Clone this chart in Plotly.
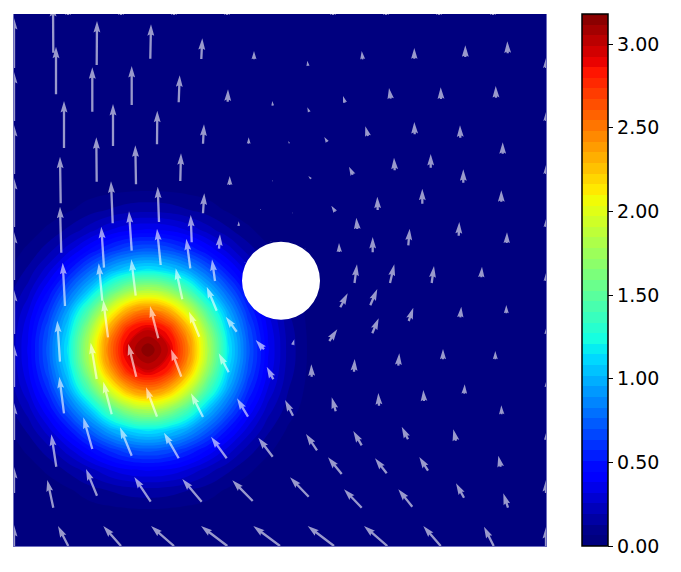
import numpy as np
import plotly.graph_objects as go

# scalar field samples (rows bottom to top)
grid_x = [-6, 14, 34, 54, 74, 94, 114, 134, 154, 174, 194, 214, 234, 254, 274, 294, 314, 540]
grid_y = [-4, 16, 36, 56, 76, 96, 116, 136, 156, 176, 196, 216, 236, 256, 276, 296, 316, 336, 356, 376, 540]
field = [
 [0,.001,.001,.002,.004,.005,.006,.006,.006,.005,.004,.002,.001,.001,0,0,0,0],
 [.001,.002,.004,.007,.011,.016,.020,.020,.020,.016,.011,.007,.004,.002,.001,0,0,0],
 [.003,.006,.013,.021,.033,.045,.054,.058,.054,.045,.033,.021,.013,.006,.003,.001,0,0],
 [.007,.016,.031,.054,.095,.130,.160,.170,.160,.130,.095,.054,.031,.016,.007,.003,.001,0],
 [.016,.035,.075,.140,.220,.310,.370,.390,.370,.310,.220,.140,.075,.035,.016,.006,.002,0],
 [.031,.075,.160,.290,.440,.580,.690,.730,.690,.580,.440,.290,.160,.075,.031,.013,.004,0],
 [.054,.140,.290,.490,.730,.950,1.10,1.17,1.10,.950,.730,.490,.290,.140,.054,.021,.007,0],
 [.095,.220,.440,.730,1.03,1.41,1.70,1.81,1.70,1.41,1.03,.730,.440,.220,.095,.033,.011,0],
 [.130,.310,.580,.950,1.41,1.93,2.33,2.48,2.33,1.93,1.41,.950,.580,.310,.130,.045,.016,0],
 [.160,.370,.690,1.10,1.70,2.33,2.81,2.99,2.81,2.33,1.70,1.10,.690,.370,.160,.054,.020,0],
 [.170,.390,.730,1.17,1.81,2.48,2.99,3.18,2.99,2.48,1.81,1.17,.730,.390,.170,.058,.020,0],
 [.160,.370,.690,1.10,1.70,2.33,2.81,2.99,2.81,2.33,1.70,1.10,.690,.370,.160,.054,.020,0],
 [.130,.310,.580,.950,1.41,1.93,2.33,2.48,2.33,1.93,1.41,.950,.580,.310,.130,.045,.016,0],
 [.095,.220,.440,.730,1.03,1.41,1.70,1.81,1.70,1.41,1.03,.730,.440,.220,.095,.033,.011,0],
 [.054,.140,.290,.490,.730,.950,1.10,1.17,1.10,.950,.730,.490,.290,.140,.054,.021,.007,0],
 [.031,.075,.160,.290,.440,.580,.690,.730,.690,.580,.440,.290,.160,.075,.031,.013,.004,0],
 [.016,.035,.075,.140,.220,.310,.370,.390,.370,.310,.220,.140,.075,.035,.016,.006,.002,0],
 [.007,.016,.031,.054,.095,.130,.160,.170,.160,.130,.095,.054,.031,.016,.007,.003,.001,0],
 [.003,.006,.013,.021,.033,.045,.054,.058,.054,.045,.033,.021,.013,.006,.003,.001,0,0],
 [.001,.002,.004,.007,.011,.016,.020,.020,.020,.016,.011,.007,.004,.002,.001,0,0,0],
 [0,0,0,0,0,0,0,0,0,0,0,0,0,0,0,0,0,0],
]

arrow_x = [0,0,0,0,0,0,0,0,0,0,
 532,532,532,532,532,532,532,532,532,532,
 39.3,42,82.7,136.3,187.3,240,78.3,117.7,164.7,213.7,258.7,50,99,143,189,234.7,82.7,122,166.3,215.7,258.3,
 46.7,98.7,145,189,246.7,47.3,117.7,177.7,224.7,90,146.7,176.3,205,257,231,51,88.3,121.7,168.3,201,94,202.7,
 46,82.7,144.3,122.3,167.3,185.3,222.7,214.7,250,259.3,50,97.7,143,189,234,78.3,117.7,164.7,212.7,258.7,
 42.3,83,136.7,187.7,238.7,39.3,54.3,107,160,213.3,266,
 294,348.7,400.3,451.3,493.7,331,295.3,376.7,427,482,275.3,313.3,354,400.7,446.3,488.7,297,339,380.7,416.7,449.3,
 278.3,321.3,363.7,408.3,487.3,343.3,325.3,358.7,394.3,444.7,492.7,340.5,376,417.7,467.3,291,
 326.3,356.3,394.7,446.3,492.3,315.3,358.3,278.7,340,384.3,429,481.3,297.7,450.3,321.7,365,410,487.7,279,
 303,347.7,394,442,327.7,372.7,414,486.7,294.7,347.7,398.3,450,494,320,373.3,426.7,479.7,
 54,107,160,213,319,372,425,479]
arrow_y = [478,425,372,319,266,212,159,106,53,0,
 478,425,372,319,265,212,159,106,53,0,
 493.3,451.7,481,487.3,487,486.7,434.3,441,443.7,444.3,440.3,398,400,401.7,402.3,402.3,364.3,361.7,365,361,364.7,
 342.7,322.7,324,332.7,336,293.3,295.3,303.7,320,278.3,281,277.7,297.3,304,283,240,245.3,250.3,246.7,265,208.7,235.3,
 184.3,167,207.7,169.3,169.3,209.3,214.3,173.7,196.7,166.7,132.7,131.7,129.3,129,129.3,97,90.3,87.7,87.7,89.3,
 79.3,50.3,44.3,44.3,45,38.3,0,0,0,0,0,
 480,486.7,487.3,489,492.7,443.3,434,447.3,447,448.3,402.7,404,410,411.7,408.3,392.3,367.3,371.3,375.7,378.3,363.3,
 332.7,334.3,336,342.3,344.3,317,294,293.7,300.7,310.3,303,263,263,263,268.7,296.7,
 238.7,240.7,225,228.7,232.7,205,212.7,201,174.3,180.3,186.7,186.7,169.3,152.3,134.7,140.3,145,131.7,130.3,
 95.7,100.7,106.7,105.3,72,72.7,75.3,79.3,49.3,38.3,39.3,48.3,38.3,0,0,0,0,
 531,531,531,531,531,531,531,531]
arrow_u = [0,0,0,0,0,0,0,0,0,0,
 0,0,0,0,0,0,0,0,0,0,
 -.3,0,.3,.7,1,0,0,0,1,.3,-.4,0,0,.3,1,0,-.4,-.7,.7,0,0,
 -.7,-1.7,-1.3,1.3,0,-1.3,-2.7,-1,0,-2.7,-3.7,-4,1,0,0,-2.3,-3.6,-4.4,-6.6,-3,-4.7,-10,
 -2.7,-6,-8.3,-8,-10.3,-10.3,-11,-10,-8.3,-6.6,-4.7,-8.4,-11,-12,-11,-9,-11.7,-14.7,-15.7,-14.4,
 -5,-11,-16.4,-19.4,-20.4,-6,-10.3,-17.7,-23,-26.3,-26.7,
 -.7,-1,0,0,-.4,-2,-2,-1.7,-.3,-.3,-1,-3,-2.7,-.4,-.3,0,-2.7,-4,-.7,0,0,
 0,-4,-.4,0,0,-1,-.3,0,1.4,.6,.3,2.5,4.3,2.3,.7,0,
 7.4,7,4.6,1,0,8,6.4,1.6,.7,1,0,0,-.4,.4,-4,-.7,-.7,-.4,-8,
 -11,-8.4,-6.3,-2.7,-13.7,-11.7,-8.7,-2.4,-18.7,-17.7,-14,-8,-4.7,-26.3,-23.3,-17.4,-9.7,
 0,0,0,0,0,0,0,0]
arrow_v = [50,49,49,49,48,44,42,37,26,21,
 10,9,9,8,8,5.5,5,7,13,19,
 47.7,47.6,44,34.4,20.7,8.3,44.4,39,27,12.4,4.7,47,42,33.6,19.4,6.4,44.4,39,27.7,9,1.3,
 46.6,42,35.3,20,1.3,46,39.4,27.3,4.7,41,36.3,29.6,14.4,1,1,43.3,37.4,36.4,31,21.7,37.3,24,
 41,36.3,32.3,32.7,27.4,25,15,19,9.3,12.6,36.6,32.6,29.4,23.7,18.4,31.7,28.4,25.6,21.6,19,
 32.4,26.7,24.7,22.7,20.7,27.7,20,20,20,20,20,
 5.3,8.3,10.7,11.7,12,6.7,4.7,10.7,11.7,11.7,2.3,5,9.7,12.3,12.4,11.4,2.7,8,12.6,13.7,13.4,
 1,6,13.3,15,11.4,11.3,9,15.3,16.6,13.7,10.7,18.7,18.7,17,10.6,1,
 14,16.3,13.3,10.6,8.3,11.7,15,5.7,12.7,12.4,10.3,8.3,12.4,9.4,14,12.7,11,9,15.7,
 16.3,14.3,12.6,11.4,16.7,15,13.7,11,19.4,18.4,17.4,14.4,14.4,20,20,20,19.3,
 10,10,10,10,10,10,10,10]

hole_center = (267, 265.3)
hole_radius = 39
z_max = 3.18
level_step = 0.0636
tick_values = [0, 0.5, 1.0, 1.5, 2.0, 2.5, 3.0]

def c(r, g, b):
    return f"rgb({r},{g},{b})"

jet = [[0, c(0,0,127)], [.11, c(0,0,255)], [.125, c(0,0,255)], [.34, c(0,219,255)], [.35, c(0,230,247)],
       [.375, c(20,255,226)], [.64, c(238,255,8)], [.65, c(247,246,0)], [.66, c(255,236,0)],
       [.89, c(255,19,0)], [.91, c(232,0,0)], [1, c(127,0,0)]]

# matplotlib-quiver arrow outline, in units of the shaft width
W = 2.3
HEAD_W, HEAD_L, HEAD_AX = 3.0, 5.0, 4.5

def arrow_polygons(xs, ys, us, vs):
    px, py = [], []
    for x0, y0, u, v in zip(xs, ys, us, vs):
        L = float(np.hypot(u, v))
        if L == 0:
            continue
        minsh = HEAD_L * W
        if L >= minsh:
            ax = np.array([0, L - HEAD_AX * W, L - HEAD_L * W, L, L - HEAD_L * W, L - HEAD_AX * W, 0, 0])
            ay = np.array([.5, .5, .5 * HEAD_W, 0, -.5 * HEAD_W, -.5, -.5, .5]) * W
        else:
            s = L / minsh
            ax = s * np.array([0, minsh - HEAD_AX * W, minsh - HEAD_L * W, minsh, minsh - HEAD_L * W, minsh - HEAD_AX * W, 0, 0])
            ay = s * np.array([.5, .5, .5 * HEAD_W, 0, -.5 * HEAD_W, -.5, -.5, .5]) * W
        cs, sn = u / L, v / L
        px += list(x0 + ax * cs - ay * sn) + [None]
        py += list(y0 + ax * sn + ay * cs) + [None]
    return px, py

fig = go.Figure()
fig.add_trace(go.Contour(
    x=grid_x, y=grid_y, z=field, colorscale=jet, zmin=0, zmax=z_max, zauto=False,
    autocontour=False,
    contours=dict(start=level_step, end=z_max, size=level_step, coloring="fill", showlines=False),
    line=dict(width=0, smoothing=1.3),
    hoverinfo="skip",
    colorbar=dict(
        x=(582 - 14) / 532, xanchor="left", xpad=0, y=0, yanchor="bottom", ypad=0,
        len=1, lenmode="fraction", thickness=26, thicknessmode="pixels",
        outlinewidth=1.5, outlinecolor="black", ticks="outside", ticklen=5, tickwidth=1.2,
        tickcolor="black", tickvals=tick_values, tickformat=".2f",
        tickfont=dict(family="DejaVu Sans", size=19, color="black"),
    ),
))
ax_, ay_ = arrow_polygons(arrow_x, arrow_y, arrow_u, arrow_v)
fig.add_trace(go.Scatter(x=ax_, y=ay_, mode="lines", fill="toself",
                         fillcolor="rgba(255,255,255,0.6)", line=dict(width=0),
                         hoverinfo="skip", showlegend=False))
fig.add_shape(type="circle", xref="x", yref="y",
              x0=hole_center[0] - hole_radius, x1=hole_center[0] + hole_radius,
              y0=hole_center[1] - hole_radius, y1=hole_center[1] + hole_radius,
              fillcolor="white", line=dict(width=0), layer="above")
edge = "rgb(110,110,190)"
# the page has an 8 px body margin, so the figure starts at (8, 8)
fig.update_layout(
    width=665, height=556, margin=dict(l=6, r=127, t=6, b=18, pad=0),
    paper_bgcolor="white", plot_bgcolor="rgb(0,0,127)", showlegend=False,
    xaxis=dict(range=[0, 532], showgrid=False, zeroline=False, showticklabels=False, ticks="",
               showline=True, linecolor=edge, linewidth=1),
    yaxis=dict(range=[0, 532], showgrid=False, zeroline=False, showticklabels=False, ticks="",
               showline=True, mirror=True, linecolor=edge, linewidth=1),
)
fig.write_html("out.html")
